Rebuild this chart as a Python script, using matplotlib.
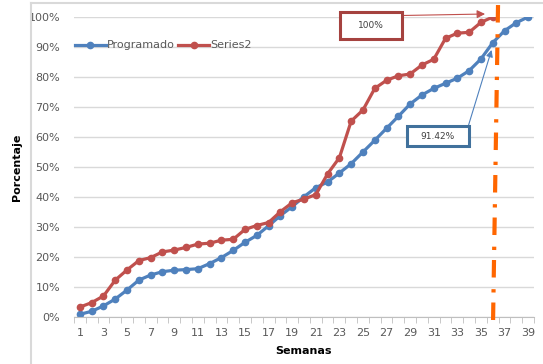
import numpy as np
import matplotlib.pyplot as plt
from matplotlib.lines import Line2D
from matplotlib.patches import Rectangle

semanas = np.arange(1, 40)

programado = [0.9, 1.9, 3.7, 6.0, 9.0, 12.3, 14.0, 15.1, 15.6, 15.8,
              16.1, 17.8, 19.8, 22.2, 24.9, 27.2, 30.4, 33.8, 36.8, 40.1,
              43.1, 45.0, 48.0, 51.1, 55.0, 58.9, 62.9, 66.9, 71.0, 74.0,
              76.2, 77.9, 79.6, 82.1, 86.0, 91.42, 95.4, 98.1, 100.0]

series2 = [3.3, 4.8, 7.0, 12.3, 15.7, 18.8, 19.8, 21.7, 22.3, 23.2,
           24.3, 24.6, 25.6, 25.9, 29.2, 30.5, 31.5, 35.1, 38.1, 39.3,
           40.8, 47.7, 53.1, 65.3, 69.0, 76.2, 78.9, 80.4, 81.0, 84.0,
           85.9, 92.9, 94.6, 94.9, 98.2, 100.0]

semana_corte = 36
yticks = np.arange(0, 101, 10)
xticks = np.arange(1, 40, 2)

blue = '#4F81BD'
red = '#C0504D'
orange = '#FF6600'
gray_txt = '#595959'

fig = plt.figure(figsize=(5.43, 3.64), dpi=100)
ax = fig.add_axes([74/543, 1-317/364, (534-74)/543, 300/364])

# chart frame (left and top border)
fig.add_artist(Line2D([31/543, 31/543], [0, 1-3/364], color='#D9D9D9', lw=1.5))
fig.add_artist(Line2D([31/543, 1], [1-3/364, 1-3/364], color='#D9D9D9', lw=1.5))

ax.plot(semanas, programado, color=blue, lw=2.3, marker='o', ms=4.5, label='Programado')
ax.plot(semanas[:len(series2)], series2, color=red, lw=2.3, marker='o', ms=4.5, label='Series2')

# cut-off line (slightly tilted, as in the original)
ax.plot([semana_corte + 0.03, semana_corte + 0.45], [-1, 104], color=orange, lw=3,
        dashes=(4.2, 2.4, 0.8, 2.8), clip_on=False, zorder=5)

ax.set_xlim(0.5, 39.5)
ax.set_ylim(0, 100)
ax.set_yticks(yticks)
ax.set_yticklabels([f'{v}%' for v in yticks], color=gray_txt, fontsize=8)
ax.set_xticks(xticks)
ax.set_xticklabels([str(v) for v in xticks], color=gray_txt, fontsize=8)
ax.set_xticks(np.arange(0.5, 40, 1), minor=True)
ax.tick_params(axis='x', which='major', length=0, pad=8)
ax.tick_params(axis='x', which='minor', length=4, color='#BFBFBF')
ax.tick_params(axis='y', length=0, pad=10)
ax.grid(axis='y', color='#D9D9D9', lw=1)
ax.set_axisbelow(True)
for s in ['top', 'right', 'left']:
    ax.spines[s].set_visible(False)
ax.spines['bottom'].set_color('#BFBFBF')

ax.set_xlabel('Semanas', fontsize=8, fontweight='bold', labelpad=6)
ax.set_ylabel('Porcentaje', fontsize=8, fontweight='bold', labelpad=5)

leg = ax.legend(loc='upper left', bbox_to_anchor=(-0.02, 0.955), ncol=2, frameon=False,
                fontsize=8, handlelength=2.8, columnspacing=0.3, handletextpad=0.1,
                labelcolor=gray_txt)

# annotation boxes
ax.add_patch(Rectangle((23.05, 92.7), 5.25, 9.0, fc='white', ec='#A5423F', lw=2.2,
                       clip_on=False, zorder=6))
ax.text(25.7, 97.2, '100%', fontsize=6.5, color='#404040', ha='center', va='center', zorder=7)
ax.annotate('', xy=(35.35, 101.0), xytext=(28.3, 100.5),
            arrowprops=dict(arrowstyle='-|>', color=red, lw=0.8, mutation_scale=12,
                            shrinkA=0, shrinkB=0), annotation_clip=False)

ax.add_patch(Rectangle((28.7, 57.0), 5.3, 6.7, fc='white', ec='#41719C', lw=2.2,
                       zorder=6))
ax.text(31.35, 60.3, '91.42%', fontsize=6.5, color='#404040', ha='center', va='center', zorder=7)
ax.annotate('', xy=(35.9, 89.0), xytext=(33.9, 63.3),
            arrowprops=dict(arrowstyle='-|>', color=blue, lw=0.8, mutation_scale=10,
                            shrinkA=0, shrinkB=0))

fig.savefig('out.png', dpi=100)
